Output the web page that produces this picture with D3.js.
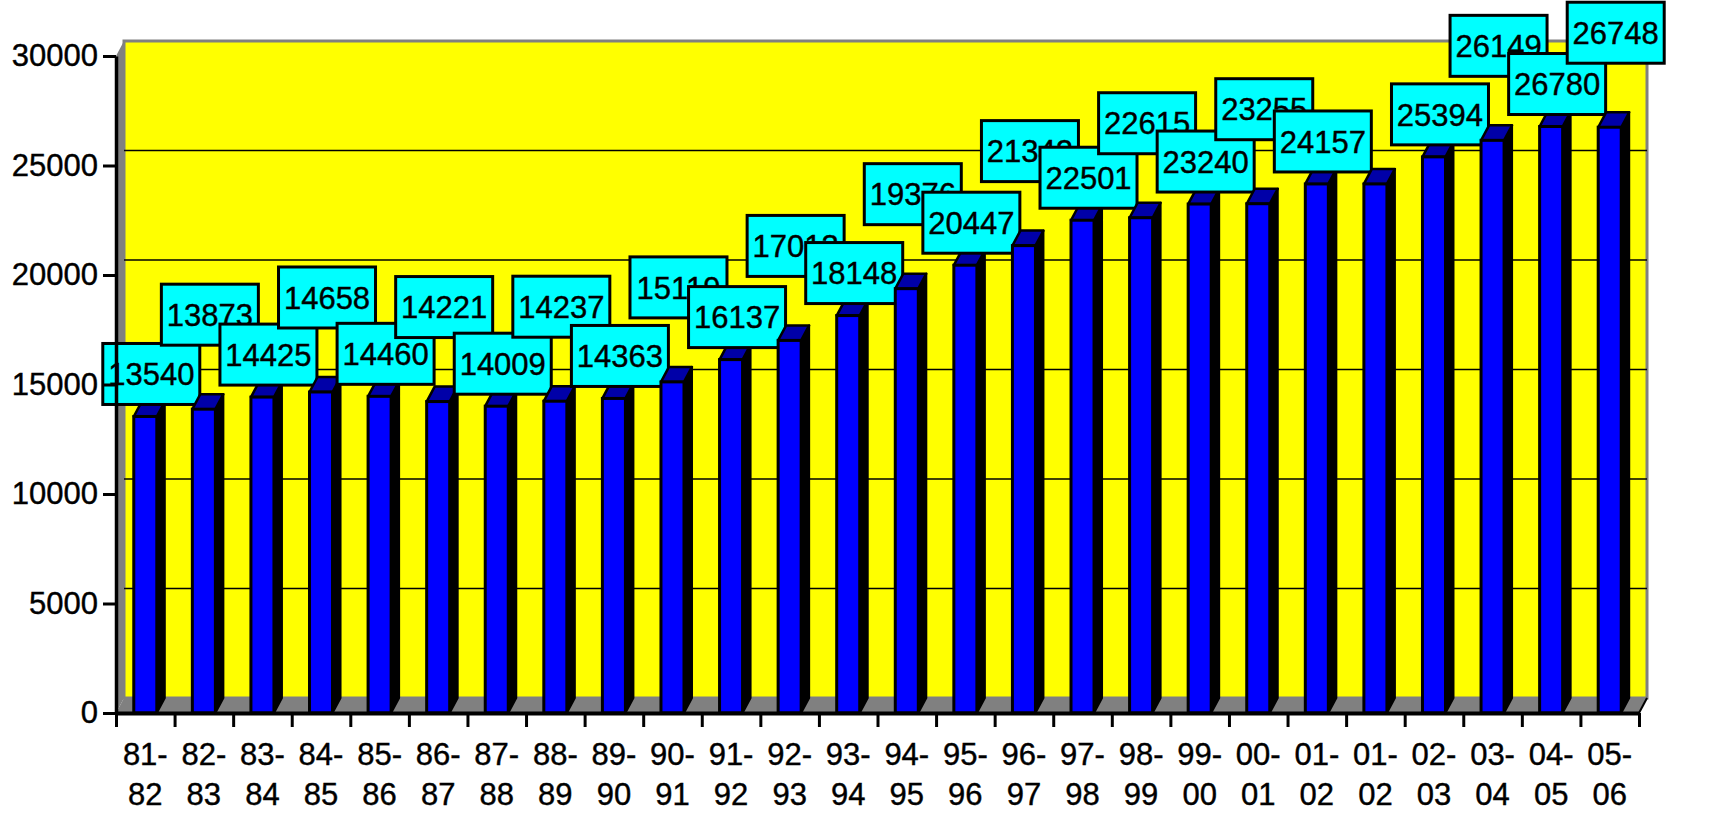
<!DOCTYPE html>
<html>
<head>
<meta charset="utf-8">
<script src="https://cdn.jsdelivr.net/npm/d3@7"></script>
<style>
html, body { margin: 0; padding: 0; background: #ffffff; }
svg { display: block; font-family: Arial, "Liberation Sans", sans-serif; }
</style>
</head>
<body>
<svg id="chart" width="1720" height="813"></svg>
<script>
// ---- data ----
const categories = ["81-82","82-83","83-84","84-85","85-86","86-87","87-88","88-89","89-90","90-91",
  "91-92","92-93","93-94","94-95","95-96","96-97","97-98","98-99","99-00","00-01",
  "01-02","01-02","02-03","03-04","04-05","05-06"];
const values = [13540,13873,14425,14658,14460,14221,14009,14237,14363,15119,
  16137,17013,18148,19376,20447,21342,22501,22615,23240,23255,
  24157,24157,25394,26149,26780,26748];
// the second "01-02" label is hidden behind its neighbours in the original
const labelTexts = ["13540","13873","14425","14658","14460","14221","14009","14237","14363","15119",
  "16137","17013","18148","19376","20447","21342","22501","22615","23240","23255",
  "24157",null,"25394","26149","26780","26748"];
const yTicks = [0,5000,10000,15000,20000,25000,30000];

(function () {
// ---- layout ----
const pLeft = 116, pRight = 1639, pTop = 56, pBottom = 713;
const DX = 8, DY = -15;           // 3-D depth offset
const FS = 31;
const svg = d3.select("#chart");

const idx = d3.range(categories.length);
const xCat = d3.scaleBand().domain(idx).range([pLeft, pRight]).padding(0);
const xBar = d3.scaleBand().domain(idx).range([pLeft, pRight]).paddingInner(0.607).paddingOuter(0.3035);
const xLin = d3.scaleLinear().domain([0, categories.length]).range([pLeft, pRight]);
const y = d3.scaleLinear().domain([0, 30000]).range([pBottom, pTop]);

const y0 = y(0), yMax = y(30000);
const pts = arr => arr.map(p => p.join(",")).join(" ");

// ---- walls ----
svg.append("polygon")
  .attr("points", pts([[pLeft, yMax], [pLeft + DX, yMax + DY], [pLeft + DX, y0 + DY], [pLeft, y0]]))
  .attr("fill", "#808080");
svg.append("rect")
  .attr("x", pLeft + DX).attr("y", yMax + DY)
  .attr("width", pRight - pLeft).attr("height", y0 - yMax)
  .attr("fill", "#ffff00").attr("stroke", "#808080").attr("stroke-width", 3);
svg.append("polygon")
  .attr("points", pts([[pLeft, y0], [pRight, y0], [pRight + DX, y0 + DY], [pLeft + DX, y0 + DY]]))
  .attr("fill", "#808080");

// gridlines on the back wall
svg.append("g").selectAll("line")
  .data(yTicks.filter(v => v > 0 && v < 30000))
  .join("line")
  .attr("x1", pLeft + DX).attr("x2", pRight + DX)
  .attr("y1", d => y(d) + DY).attr("y2", d => y(d) + DY)
  .attr("stroke", "#000").attr("stroke-width", 1.6);

// ---- bars and labels, interleaved (bar i, then label i) ----
const plot = svg.append("g");
const bw = xBar.bandwidth();
const boxW = 97, boxH = 61;

idx.forEach(i => {
  const v = values[i];
  const x0 = xBar(i), yt = y(v);
  const g = plot.append("g");
  g.append("polygon")
    .attr("points", pts([[x0 + bw, yt], [x0 + bw + DX, yt + DY], [x0 + bw + DX, y0 + DY], [x0 + bw, y0]]))
    .attr("fill", "#000").attr("stroke", "#000").attr("stroke-width", 2).attr("stroke-linejoin", "round");
  g.append("polygon")
    .attr("points", pts([[x0, yt], [x0 + DX, yt + DY], [x0 + bw + DX, yt + DY], [x0 + bw, yt]]))
    .attr("fill", "#0000a8").attr("stroke", "#000").attr("stroke-width", 2.5).attr("stroke-linejoin", "round");
  g.append("rect")
    .attr("x", x0).attr("y", yt).attr("width", bw).attr("height", y0 - yt)
    .attr("fill", "#0000ff").attr("stroke", "#000").attr("stroke-width", 3);

  const t = labelTexts[i];
  if (t !== null) {
    const cx = x0 + bw / 2 + 6;
    const lift = (i % 2 === 0) ? 12 : 64;
    const by = yt - lift;
    const lg = plot.append("g");
    lg.append("rect")
      .attr("x", cx - boxW / 2).attr("y", by - boxH)
      .attr("width", boxW).attr("height", boxH)
      .attr("fill", "#00ffff").attr("stroke", "#000").attr("stroke-width", 3);
    lg.append("text")
      .attr("x", cx).attr("y", by - boxH / 2).attr("dy", "0.36em")
      .attr("text-anchor", "middle")
      .attr("font-size", FS).attr("fill", "#000")
      .attr("stroke", "#000").attr("stroke-width", 0.4)
      .text(t);
  }
});

// ---- axes ----
const yAxis = svg.append("g")
  .attr("transform", `translate(${pLeft},0)`)
  .call(d3.axisLeft(y).tickValues(yTicks).tickSize(13).tickSizeOuter(0).tickPadding(5).tickFormat(d3.format("d")));
yAxis.select(".domain").attr("stroke", "#000").attr("stroke-width", 3.5);
yAxis.selectAll(".tick line").attr("stroke", "#000").attr("stroke-width", 3);
yAxis.selectAll(".tick text").attr("font-size", FS).attr("fill", "#000")
  .attr("stroke", "#000").attr("stroke-width", 0.4)
  .attr("font-family", "Arial, 'Liberation Sans', sans-serif");

const xAxis = svg.append("g")
  .attr("transform", `translate(0,${pBottom})`)
  .call(d3.axisBottom(xLin).tickValues(d3.range(categories.length + 1)).tickSize(14).tickSizeOuter(0).tickFormat(""));
xAxis.select(".domain").attr("stroke", "#000").attr("stroke-width", 4);
xAxis.selectAll(".tick line").attr("stroke", "#000").attr("stroke-width", 3);

svg.append("line")
  .attr("x1", pRight).attr("y1", y0).attr("x2", pRight + DX).attr("y2", y0 + DY)
  .attr("stroke", "#000").attr("stroke-width", 2);

// category labels (two lines)
const catG = svg.append("g").attr("font-size", FS).attr("fill", "#000")
  .attr("stroke", "#000").attr("stroke-width", 0.4).attr("text-anchor", "middle");
categories.forEach((c, i) => {
  const parts = c.split("-");
  const cx = xCat(i) + xCat.bandwidth() / 2;
  const tx = catG.append("text").attr("x", cx).attr("y", 765);
  tx.append("tspan").attr("x", cx).text(parts[0] + "-");
  tx.append("tspan").attr("x", cx).attr("dy", 40).text(parts[1]);
});
})();
</script>
</body>
</html>
